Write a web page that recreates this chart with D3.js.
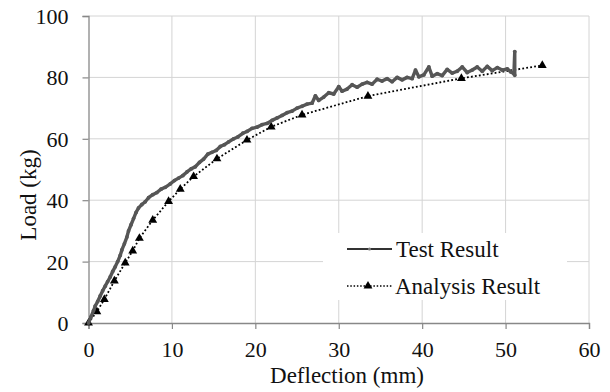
<!DOCTYPE html>
<html>
<head>
<meta charset="utf-8">
<script src="https://cdn.jsdelivr.net/npm/d3@7/dist/d3.min.js"></script>
<style>
html,body{margin:0;padding:0;background:#fff;}
</style>
</head>
<body>
<svg id="chart" width="610" height="392"></svg>
<script>
const xTicks = [0,10,20,30,40,50,60];
const yTicks = [0,20,40,60,80,100];
const seriesNames = ["Test Result","Analysis Result"];

const testX = [0,0.3,0.6,0.8,1.1,1.4,1.7,2.0,2.3,2.6,2.9,3.2,3.5,3.8,4.0,4.3,4.6,4.8,5.1,5.4,5.7,6.0,6.4,6.8,7.2,7.7,8.2,8.7,9.2,9.8,10.3,10.8,11.3,11.8,12.3,12.8,13.3,13.8,14.3,14.8,15.3,15.8,16.3,16.8,17.4,17.9,18.5,19.0,19.6,20.2,20.8,21.4,22.0,22.6,23.2,23.8,24.4,25.0,25.6,26.2,26.8,27.2,27.6,28.2,28.8,29.4,30.0,30.4,31.0,31.6,32.2,32.8,33.4,34.0,34.6,35.2,35.8,36.4,37.0,37.6,38.2,38.8,39.2,39.6,40.2,40.8,41.2,41.8,42.4,43.0,43.6,44.2,44.8,45.4,46.0,46.6,47.2,47.8,48.4,49.0,49.6,50.2,50.6,51.0,51.1,51.1];
const testY = [0,2,4,5.5,7,8.8,10.5,12,13.5,15,16.8,18.3,20,22,23.8,25.8,28,30,32,34,36,37.5,38.6,39.5,40.8,41.8,42.5,43.6,44.2,45.3,46.4,47.2,48,49.2,50.2,50.9,52.3,53.4,55,55.6,56.2,57.5,58.1,59,60,60.6,61.8,62.4,63.4,63.8,64.6,65,66,66.8,67.6,68.5,69,70,70.6,71.3,71.6,74,72.5,73.6,75,74.6,77,75.5,76.2,77.6,76.8,77.8,78.4,77.8,79.4,78.8,79.6,78.6,80,79.2,80,79.6,82.4,80.2,80.8,83.4,80.4,81.2,80.6,82.6,81.4,82,83.4,81.6,82.4,83.4,82,83.6,82.2,83.2,82.4,82.8,81.8,81.2,88.4,80.7];

const anaX = [0,1.0,1.9,3.1,4.4,5.3,6.1,7.7,9.6,11.0,12.6,15.4,19.0,21.9,25.6,33.5,44.7,54.4];
const anaY = [0,3.7,7.7,13.7,19.6,23.5,27.6,33.5,39.6,43.6,47.7,53.5,59.6,63.9,67.8,73.9,79.7,83.9];

const FONT = "Liberation Serif";
const svg = d3.select("#chart");
const x = d3.scaleLinear().domain([0,60]).range([88.5,589]);
const y = d3.scaleLinear().domain([0,100]).range([323,16]);

// grid
const grid = svg.append("g");
grid.selectAll("line.gx").data(xTicks.slice(1)).join("line")
  .attr("x1",d=>x(d)).attr("x2",d=>x(d)).attr("y1",y(0)).attr("y2",y(100))
  .attr("stroke","#d4d4d4").attr("stroke-width",1);
grid.selectAll("line.gy").data(yTicks.slice(1)).join("line")
  .attr("x1",x(0)).attr("x2",x(60)).attr("y1",d=>y(d)).attr("y2",d=>y(d))
  .attr("stroke","#d4d4d4").attr("stroke-width",1);

// axes
const xAxis = svg.append("g").attr("transform",`translate(0,${y(0)})`)
  .call(d3.axisBottom(x).tickValues(xTicks).tickSize(6).tickPadding(12).tickFormat(d3.format("d")));
const yAxis = svg.append("g").attr("transform",`translate(${x(0)},0)`)
  .call(d3.axisLeft(y).tickValues(yTicks).tickSize(6).tickPadding(14).tickFormat(d3.format("d")));
[xAxis,yAxis].forEach(a=>{
  a.attr("font-family",FONT).attr("font-size",22);
  a.select(".domain").attr("stroke","#888").attr("stroke-width",1.3);
  a.selectAll(".tick line").attr("stroke","#888").attr("stroke-width",1.2);
  a.selectAll(".tick text").style("font-family",FONT).style("font-size","22px").attr("fill","#111");
});
yAxis.selectAll(".tick text").attr("dy","0.34em");

// axis titles
svg.append("text").attr("x",347).attr("y",383).attr("text-anchor","middle")
  .style("font-family",FONT).style("font-size","23px").attr("fill","#111").text("Deflection (mm)");
svg.append("text").attr("transform","translate(36,195) rotate(-90)").attr("text-anchor","middle")
  .style("font-family",FONT).style("font-size","23px").attr("fill","#111").text("Load (kg)");

// analysis series
const anaData = anaX.map((d,i)=>[d,anaY[i]]);
const testData = testX.map((d,i)=>[d,testY[i]]);
const line = d3.line().x(d=>x(d[0])).y(d=>y(d[1]));

svg.append("path").datum(anaData).attr("d",line).attr("fill","none")
  .attr("stroke","#000").attr("stroke-width",1.8).attr("stroke-dasharray","1.8,2.2");
const tri = d3.symbol().type(d3.symbolTriangle).size(34);
svg.selectAll("path.tri").data(anaData).join("path").attr("class","tri")
  .attr("d",tri).attr("transform",d=>`translate(${x(d[0])},${y(d[1])})`).attr("fill","#000");

// test series
svg.append("path").datum(testData).attr("d",line).attr("fill","none")
  .attr("stroke","#565656").attr("stroke-width",3.4).attr("stroke-linejoin","round");
svg.selectAll("circle.tp").data(testData).join("circle").attr("class","tp")
  .attr("cx",d=>x(d[0])).attr("cy",d=>y(d[1])).attr("r",1.9).attr("fill","#565656");

// legend
const lg = svg.append("g");
lg.append("rect").attr("x",323).attr("y",233).attr("width",244).attr("height",67).attr("fill","#fff");
lg.append("line").attr("x1",347).attr("x2",392).attr("y1",249).attr("y2",249)
  .attr("stroke","#333").attr("stroke-width",2);
lg.append("circle").attr("cx",369.5).attr("cy",249).attr("r",1.6).attr("fill","#777");
lg.append("text").attr("x",396).attr("y",257).style("font-family",FONT).style("font-size","23px").attr("fill","#111").text(seriesNames[0]);
lg.append("line").attr("x1",347).attr("x2",392).attr("y1",286).attr("y2",286)
  .attr("stroke","#000").attr("stroke-width",1.5).attr("stroke-dasharray","1.5,1.8");
lg.append("path").attr("d",tri).attr("transform","translate(368,286)").attr("fill","#000");
lg.append("text").attr("x",395).attr("y",294).style("font-family",FONT).style("font-size","23px").attr("fill","#111").text(seriesNames[1]);
</script>
</body>
</html>
